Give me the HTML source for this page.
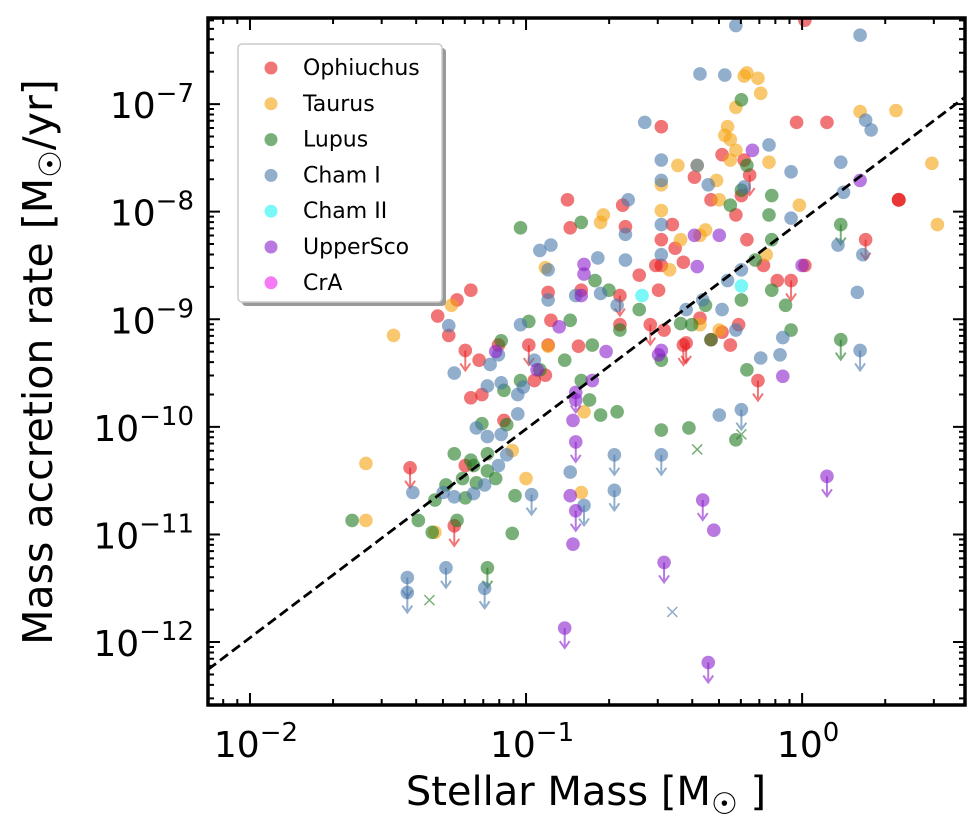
<!DOCTYPE html>
<html><head><meta charset="utf-8"><style>
body{margin:0;background:#fff;}
svg{display:block;font-family:"DejaVu Sans","Liberation Sans",sans-serif;}
</style></head><body>
<svg id="chart" width="980" height="820" viewBox="0 0 980 820" xmlns="http://www.w3.org/2000/svg">
<g id="marks"></g>
<g id="axes"></g>
<g id="legend"></g>
<text x="586" y="805" font-size="40" text-anchor="middle">Stellar Mass [M<tspan font-size="30" dy="9">☉</tspan><tspan dy="-9"> ]</tspan></text>
<text transform="translate(52,362) rotate(-90)" font-size="41" text-anchor="middle">Mass accretion rate [M<tspan font-size="31" dy="9">☉</tspan><tspan dy="-9">/yr]</tspan></text>
</svg>
<script>
// log10(M/Msun), log10(Mdot), upper-limit flag
const ophLogM=[0.01,-0.51,-0.02,-0.39,-0.65,-0.85,-0.84,-0.33,-0.22,-0.19,-0.21,-0.29,-0.24,-0.2,-0.14,-0.09,-0.51,-0.51,-0.46,-0.43,-0.52,-0.53,-0.59,-0.66,-0.8,-0.92,-0.91,-0.81,-0.66,-0.55,-0.5,-0.42,-0.37,-0.33,-0.29,-0.23,-0.16,-0.26,-0.04,0.01,-0.99,-0.97,-1.08,-1.2,-1.22,-1.25,-1.2,-0.92,-1.1,-1.42,-1.26,-1.32,-1.28,-1.22,-1.17,-1.16,-0.93,-0.43,0.09,0.23,-0.47,-0.64];
const ophLogR=[-6.22,-7.21,-7.17,-7.68,-7.94,-7.89,-8.15,-7.89,-7.85,-7.66,-7.52,-7.47,-8.03,-8.26,-8.5,-8.64,-8.26,-8.5,-8.34,-8.47,-8.73,-8.5,-8.59,-8.78,-8.73,-8.75,-9.01,-9.25,-9.05,-9.05,-9.1,-9.22,-8.99,-9.19,-9.12,-9.05,-9.57,-9.24,-8.64,-8.5,-9.24,-9.57,-9.94,-9.73,-10.36,-8.82,-8.73,-9.24,-9.24,-10.38,-10.92,-8.97,-9.15,-9.29,-9.38,-9.7,-9.52,-9.24,-7.17,-8.26,-8.12,-8.14];
const ophLim=[0,0,0,0,0,0,0,0,0,1,0,0,0,0,0,0,0,0,0,0,0,0,0,1,0,0,0,0,0,1,0,1,0,0,0,0,1,0,1,0,1,0,0,0,0,0,0,0,0,1,1,0,0,1,0,0,0,1,0,1,0,0];
const tauLogM=[0.47,0.34,0.21,0.49,-0.2,-0.16,-0.15,-0.24,-0.27,-0.26,-0.31,-0.3,-0.28,-0.24,-0.35,-0.37,-0.51,-0.45,-0.38,-0.72,-0.73,-0.93,-0.92,-1.27,-1.48,-1.58,-1.58,-1.33,-1.05,-1.0,-0.8,-0.79,-0.51,-0.48,-0.44,-0.37,-0.3,-0.26,-0.13,-0.01,-0.12,-0.21];
const tauLogR=[-7.55,-7.06,-7.07,-8.12,-6.71,-6.76,-6.9,-7.03,-7.21,-7.33,-7.71,-7.89,-7.29,-7.43,-8.17,-8.22,-7.75,-7.57,-7.57,-8.03,-8.1,-8.52,-9.25,-8.87,-9.15,-10.34,-10.87,-10.98,-10.22,-10.48,-10.61,-9.86,-7.99,-8.54,-8.26,-9.05,-9.1,-7.52,-8.4,-7.94,-7.54,-6.74];
const lupLogM=[-1.02,-0.8,-0.75,-0.7,-0.76,-0.84,-0.99,-1.09,-1.08,-1.02,-0.95,-0.86,-0.8,-0.77,-0.73,-0.67,-0.66,-0.59,-0.51,-0.51,-1.07,-1.14,-1.2,-1.14,-1.26,-1.19,-1.16,-1.22,-1.25,-1.34,-1.33,-1.29,-1.23,-1.18,-1.11,-1.05,-1.04,-1.14,-1.39,-1.63,-0.22,-0.2,-0.22,-0.26,-0.12,-0.11,-0.11,-0.17,-0.11,-0.06,-0.04,-0.22,-0.2,-0.24,-0.33,-0.44,-0.4,-0.35,0.14,0.14,-0.41];
const lupLogR=[-8.15,-8.1,-8.64,-8.73,-9.24,-9.01,-9.02,-9.2,-9.66,-9.57,-9.47,-9.38,-9.57,-9.75,-9.89,-9.86,-9.1,-8.91,-9.38,-10.03,-9.98,-10.25,-10.31,-10.41,-10.25,-10.36,-9.97,-10.66,-10.87,-10.98,-10.68,-10.54,-10.48,-10.52,-10.48,-10.99,-10.64,-11.31,-10.87,-10.87,-6.96,-7.57,-7.8,-7.94,-8.03,-7.85,-8.26,-8.45,-8.73,-8.87,-9.1,-8.82,-9.47,-10.12,-9.19,-9.04,-9.05,-8.87,-8.12,-9.19,-10.01];
const lupLim=[0,0,0,0,0,0,0,0,0,0,0,0,0,0,0,0,0,0,0,0,0,0,0,0,0,0,0,0,0,0,0,0,0,0,0,0,0,1,0,0,0,0,0,0,0,0,0,0,0,0,0,0,0,0,0,0,0,0,1,1,0];
const chaLogM=[-0.24,0.21,-0.28,-0.37,-0.57,-0.51,-0.51,-0.51,-0.51,-0.38,-0.34,-0.27,-0.21,-0.12,-0.04,0.14,0.23,0.25,0.15,0.13,0.2,0.22,0.21,-0.63,-0.64,-0.74,-0.73,-0.67,-0.92,-0.92,-0.82,-1.02,-1.01,-0.97,-1.1,-1.03,-1.09,-1.13,-1.09,-1.07,-1.03,-1.18,-1.14,-1.1,-1.19,-1.15,-1.26,-1.3,-1.41,-1.29,-1.43,-1.43,-1.15,-0.98,-0.84,-0.79,-0.68,-0.68,-0.51,-0.3,-0.22,-0.15,-0.08,-0.07,-0.24,-0.29,-0.22,-0.36,-0.42,-0.04,-0.64,-0.95,-1.28,-1.14,-1.26,-0.91];
const chaLogR=[-6.27,-6.36,-6.73,-6.72,-7.17,-7.52,-7.71,-8.12,-8.4,-7.57,-7.75,-8.64,-7.77,-7.38,-7.63,-7.54,-7.15,-7.24,-7.82,-8.31,-8.75,-8.4,-9.29,-7.89,-8.45,-8.43,-8.76,-8.87,-8.54,-8.82,-8.78,-9.05,-9.63,-9.38,-9.33,-9.7,-9.59,-9.42,-10.07,-10.26,-9.88,-10.01,-10.09,-10.36,-10.62,-10.54,-10.65,-10.61,-10.61,-11.31,-11.4,-11.54,-11.5,-10.63,-10.42,-10.73,-10.26,-10.59,-10.26,-9.89,-9.84,-9.36,-9.33,-9.17,-9.1,-8.91,-8.54,-8.82,-8.91,-8.06,-8.21,-8.36,-9.06,-9.62,-9.5,-8.31];
const chaLim=[0,0,0,0,0,0,0,0,0,0,0,0,0,0,0,0,0,0,0,0,0,0,1,0,0,0,0,0,0,0,0,0,0,0,0,0,0,0,0,0,0,0,0,0,0,0,0,0,0,1,1,1,1,1,0,1,1,1,1,0,1,0,0,0,0,0,0,0,0,0,0,0,0,0,0,0];
const cha2LogM=[-0.58,-0.22];
const cha2LogR=[-8.78,-8.69];
const uscLogM=[0.21,0,-0.18,-0.3,-0.38,-0.39,-0.07,-0.51,-0.79,-0.79,-0.8,-0.88,-0.71,-0.76,-1.11,-0.96,-0.82,-0.82,-0.83,-0.82,-0.84,-0.82,-0.83,-0.52,-0.5,-0.36,-0.32,-0.86,-0.34,0.09];
const uscLogR=[-7.71,-8.5,-7.43,-8.22,-8.51,-8.22,-9.53,-9.29,-8.49,-8.58,-8.78,-9.07,-9.3,-9.57,-9.3,-9.47,-9.75,-9.68,-9.94,-10.14,-10.64,-10.78,-11.09,-9.33,-11.26,-10.68,-10.96,-11.87,-12.19,-10.46];
const uscLim=[0,0,0,0,0,0,0,0,0,0,0,0,0,0,0,0,0,1,0,1,0,1,0,0,1,1,0,1,1,1];
const crossLogM=[-1.35,-0.38,-0.22,-0.47];
const crossLogR=[-11.61,-10.21,-10.07,-11.72];
const crossSeries=['lup','lup','lup','cha'];
const bigLogM=[0.35];
const bigLogR=[-7.89];
const fitSlope=1.94, fitIntercept=-8.08;
const xTickLabels=['−2','−1','0'];
const yTickLabels=['−7','−8','−9','−10','−11','−12'];
const legendNames=['Ophiuchus','Taurus','Lupus','Cham I','Cham II','UpperSco','CrA'];

const L=208,R=965,T=18,B=705;
const xMin=-2.152,xMax=0.59,yMin=-12.585,yMax=-6.2;
const X=v=>L+(v-xMin)/(xMax-xMin)*(R-L);
const Y=v=>B-(v-yMin)/(yMax-yMin)*(B-T);
const NS='http://www.w3.org/2000/svg';
const colors={oph:'#e8191c',tau:'#f5a10e',lup:'#1f7a1f',cha:'#4a78ab',cha2:'#22f2f2',usc:'#8a1fcc',cra:'#ee22ee'};
function mk(tag,parent,attrs){const e=document.createElementNS(NS,tag);for(const k in attrs)e.setAttribute(k,attrs[k]);parent.appendChild(e);return e;}
const marks=document.getElementById('marks'), axes=document.getElementById('axes'), leg=document.getElementById('legend');
const clip=mk('clipPath',marks,{id:'pc'});mk('rect',clip,{x:L,y:T,width:R-L,height:B-T});
const g=mk('g',marks,{'clip-path':'url(#pc)'});

function series(key,lm,lr,lim){
  const c=colors[key];
  for(let i=0;i<lm.length;i++){
    const cx=X(lm[i]),cy=Y(lr[i]);
    if(lim&&lim[i]){
      const a=mk('path',g,{d:`M${cx},${cy}V${cy+18}M${cx-5},${cy+13}L${cx},${cy+20}L${cx+5},${cy+13}`,stroke:c,'stroke-width':2,fill:'none','stroke-opacity':0.6});
      
      
    }
    const p=mk('circle',g,{cx:cx,cy:cy,r:6.8,fill:c,'fill-opacity':0.6});
    
    
  }
}
series('oph',ophLogM,ophLogR,ophLim);
series('tau',tauLogM,tauLogR,null);
series('lup',lupLogM,lupLogR,lupLim);
series('cha',chaLogM,chaLogR,chaLim);
series('cha2',cha2LogM,cha2LogR,null);
series('usc',uscLogM,uscLogR,uscLim);
for(let i=0;i<bigLogM.length;i++){
  const b=mk('circle',g,{cx:X(bigLogM[i]),cy:Y(bigLogR[i]),r:7,fill:'#e82020','fill-opacity':0.9});
  
  
}
for(let i=0;i<crossLogM.length;i++){
  const cx=X(crossLogM[i]),cy=Y(crossLogR[i]);
  const x=mk('path',g,{d:`M${cx-5},${cy-5}L${cx+5},${cy+5}M${cx-5},${cy+5}L${cx+5},${cy-5}`,stroke:colors[crossSeries[i]],'stroke-width':1.5,'stroke-opacity':0.6});
  
  
}
const fit=mk('line',g,{x1:X(xMin),y1:Y(fitIntercept+fitSlope*xMin),x2:X(xMax),y2:Y(fitIntercept+fitSlope*xMax),stroke:'#000','stroke-width':2.8,'stroke-dasharray':'10,5'});



// axes & ticks
const fr=mk('rect',axes,{x:L,y:T,width:R-L,height:B-T,fill:'none',stroke:'#000','stroke-width':3.5});


function tick(d){mk('path',axes,{d:d,stroke:'#000','stroke-width':2});}
for(let dec=-3;dec<=1;dec++){
  for(let m=1;m<=9;m++){
    const v=dec+Math.log10(m);
    if(v<xMin||v>xMax)continue;
    const x=X(v),len=m===1?12:6;
    tick(`M${x},${B}V${B-len}M${x},${T}V${T+len}`);
  }
}
for(let dec=-13;dec<=-6;dec++){
  for(let m=1;m<=9;m++){
    const v=dec+Math.log10(m);
    if(v<yMin||v>yMax)continue;
    const y=Y(v),len=m===1?12:6;
    tick(`M${L},${y}H${L+len}M${R},${y}H${R-len}`);
  }
}
xTickLabels.forEach((s,i)=>{
  const t=mk('text',axes,{x:X(-2+i)+6,y:757,'font-size':36,'text-anchor':'middle'});
  t.textContent='10';
  const sp=mk('tspan',t,{dy:-16,'font-size':26});sp.textContent=s;
  
  
});
yTickLabels.forEach((s,i)=>{
  const y=Y(-7-i);
  const t=mk('text',axes,{x:194,y:y+14,'font-size':36,'text-anchor':'end'});
  t.textContent='10';
  const sp=mk('tspan',t,{dy:-16,'font-size':26});sp.textContent=s;
  
  
});

// legend
mk('rect',leg,{x:242,y:48,width:204,height:258,rx:4,fill:'#999'});
const box=mk('rect',leg,{x:238,y:44,width:204,height:258,rx:4,fill:'#fff',stroke:'#ccc','stroke-width':1.5});


const legKeys=['oph','tau','lup','cha','cha2','usc','cra'];
legendNames.forEach((n,i)=>{
  const y=68+i*35.8;
  const e=mk('g',leg,{});
  
  
  mk('circle',e,{cx:271,cy:y,r:6.5,fill:colors[legKeys[i]],'fill-opacity':0.6});
  const t=mk('text',e,{x:303,y:y+7,'font-size':22});t.textContent=n;
});
</script>
</body></html>
